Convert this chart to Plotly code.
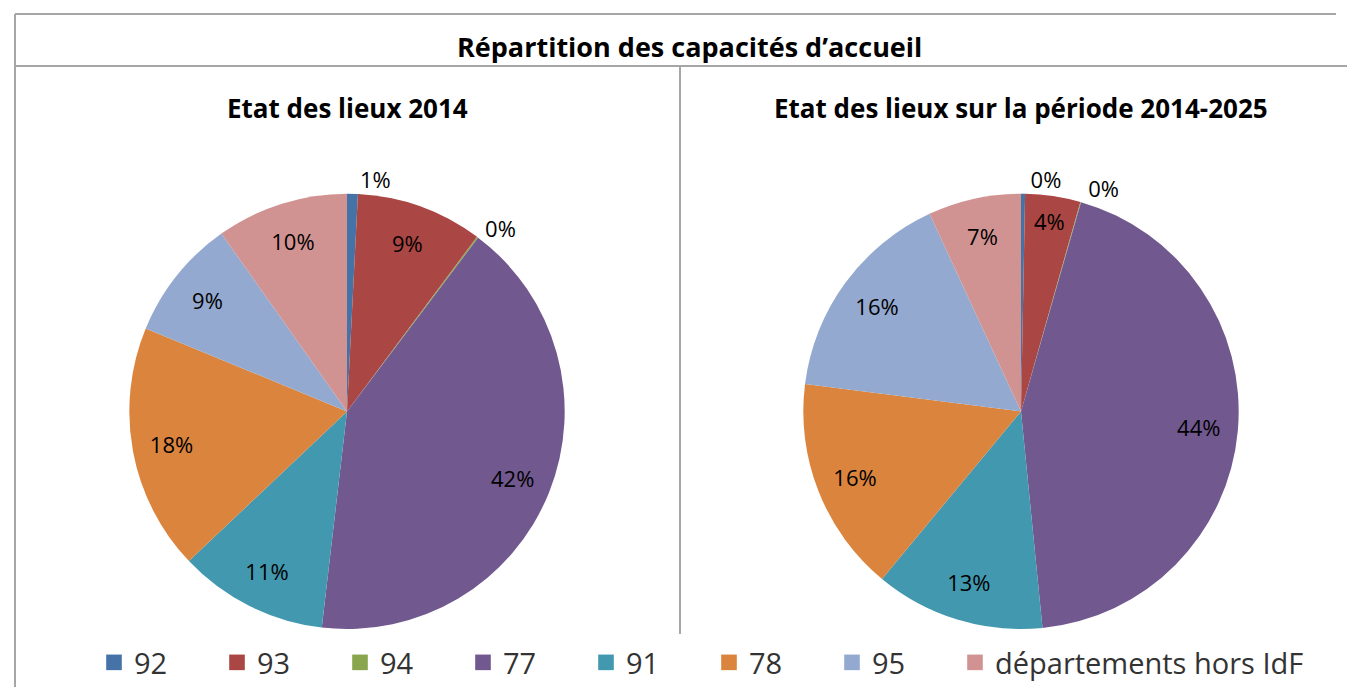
import plotly.graph_objects as go

categories = ["92", "93", "94", "77", "91", "78", "95", "départements hors IdF"]
values_2014 = [0.8, 9.4, 0.1, 41.6, 11.1, 18.3, 9.0, 9.8]
values_2025 = [0.3, 4.1, 0.05, 44.0, 12.6, 16.0, 16.1, 6.9]
colors = ["#4572A7", "#AA4643", "#89A54E", "#71588F", "#4198AF", "#DB843D", "#93A9CF", "#D19392"]

title_main = "Répartition des capacités d’accueil"
subtitle_1 = "Etat des lieux 2014"
subtitle_2 = "Etat des lieux sur la période 2014-2025"

W, H = 1347, 688
FONT = "Open Sans"
LABEL_SIZE = 22


def px_x(x):
    return x / W


def px_y(y):
    return 1 - y / H


fig = go.Figure()
pies = [
    (values_2014, [px_x(129), px_x(565)], True),
    (values_2025, [px_x(803), px_x(1239)], False),
]
for vals, dom_x, show in pies:
    dom = dict(x=dom_x, y=[px_y(630), px_y(194)])
    # filled pie; carries the label of the first (thin) slice outside
    fig.add_trace(go.Pie(
        labels=categories, values=vals, sort=False, direction="clockwise", rotation=0,
        marker=dict(colors=colors, line=dict(width=0)),
        textposition=["outside"] + ["none"] * (len(vals) - 1),
        texttemplate="%{percent:.0%}",
        textfont=dict(family=FONT, size=LABEL_SIZE, color="#000000"),
        domain=dom, showlegend=show, hoverinfo="label+percent",
    ))
    # transparent ring carrying the other labels, centred in the outer part of the slices
    fig.add_trace(go.Pie(
        labels=categories, values=vals, sort=False, direction="clockwise", rotation=0,
        hole=0.64,
        marker=dict(colors=["rgba(0,0,0,0)"] * len(vals), line=dict(width=0)),
        textposition=["none"] + ["outside" if v < 1 else "inside" for v in vals[1:]],
        texttemplate="%{percent:.0%}",
        insidetextorientation="horizontal",
        textfont=dict(family=FONT, size=LABEL_SIZE, color="#000000"),
        domain=dom, showlegend=False, hoverinfo="skip",
    ))

line_col = "#A6A6A6"
shapes = [
    dict(type="line", xref="paper", yref="paper", x0=px_x(15), x1=px_x(1336), y0=px_y(14), y1=px_y(14),
         line=dict(color=line_col, width=2)),
    dict(type="line", xref="paper", yref="paper", x0=px_x(15), x1=px_x(15), y0=px_y(14), y1=0,
         line=dict(color=line_col, width=2)),
    dict(type="line", xref="paper", yref="paper", x0=px_x(15), x1=1, y0=px_y(66), y1=px_y(66),
         line=dict(color=line_col, width=2)),
    dict(type="line", xref="paper", yref="paper", x0=px_x(680), x1=px_x(680), y0=px_y(66), y1=px_y(635),
         line=dict(color=line_col, width=2)),
]

annotations = [
    dict(text=f"<b>{title_main}</b>", x=px_x(689), y=px_y(47), xref="paper", yref="paper",
         showarrow=False, font=dict(family=FONT, size=27, color="#000000"), xanchor="center", yanchor="middle"),
    dict(text=f"<b>{subtitle_1}</b>", x=px_x(347), y=px_y(108), xref="paper", yref="paper",
         showarrow=False, font=dict(family=FONT, size=26, color="#000000"), xanchor="center", yanchor="middle"),
    dict(text=f"<b>{subtitle_2}</b>", x=px_x(1021), y=px_y(108), xref="paper", yref="paper",
         showarrow=False, font=dict(family=FONT, size=26, color="#000000"), xanchor="center", yanchor="middle"),
]

fig.update_layout(
    width=W, height=H,
    margin=dict(l=0, r=0, t=0, b=0),
    paper_bgcolor="#FFFFFF",
    plot_bgcolor="#FFFFFF",
    shapes=shapes,
    annotations=annotations,
    uniformtext=dict(mode="show", minsize=LABEL_SIZE),
    legend=dict(
        orientation="h",
        x=px_x(94), y=px_y(663), xanchor="left", yanchor="middle",
        font=dict(family=FONT, size=29, color="#333333"),
        entrywidth=78, entrywidthmode="pixels",
        traceorder="normal",
        itemclick=False, itemdoubleclick=False,
        bgcolor="rgba(0,0,0,0)",
    ),
)

post = (
    "document.body.style.margin='0';document.body.style.overflow='hidden';"
    "document.querySelectorAll('.legend .scrollbox').forEach(function(e){e.removeAttribute('clip-path');});"
    "document.querySelectorAll('.legend .legendpoints path').forEach(function(e){"
    "var t=e.getAttribute('transform')||'';e.setAttribute('transform',t+' scale(1.3)');});"
)

fig.write_html(
    "out.html",
    config={"displayModeBar": False},
    post_script=post,
)
